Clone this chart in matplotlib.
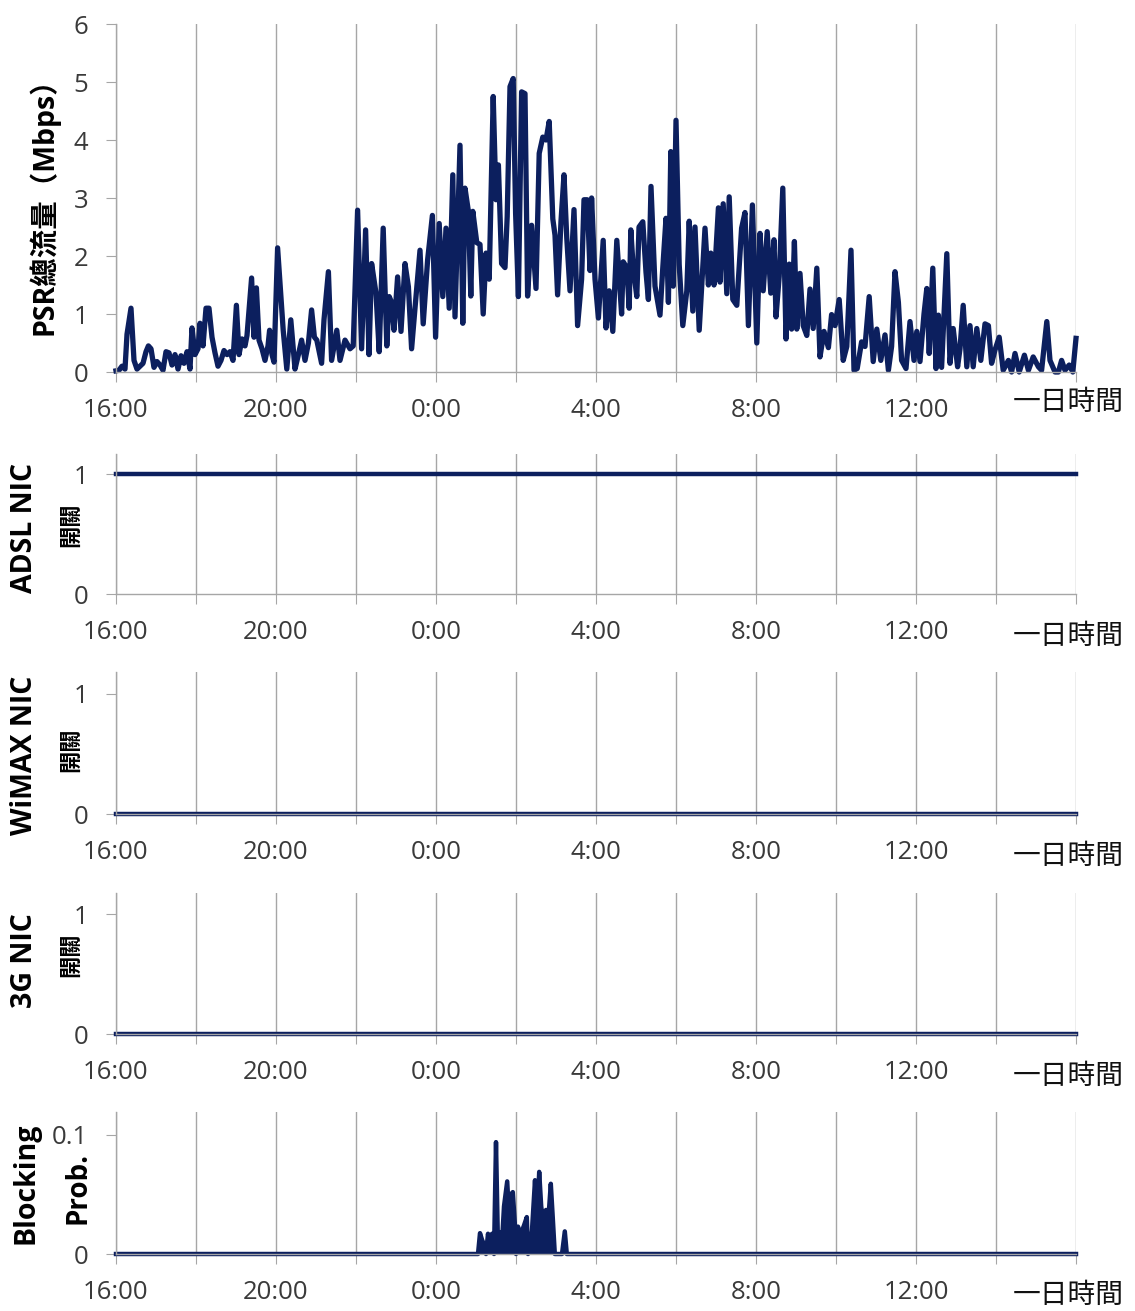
import numpy as np
import matplotlib
matplotlib.use("Agg")
import matplotlib.pyplot as plt

plt.rcParams['font.family'] = ['Open Sans', 'Noto Sans CJK TC', 'DejaVu Sans']

# hours after 16:00, PSR total traffic (Mbps)
psr_hours = [0.0, 0.075, 0.15, 0.225, 0.275, 0.375, 0.45, 0.525, 0.6, 0.675, 0.75, 0.81, 0.875, 0.95,
             1.025, 1.1, 1.175, 1.25, 1.325, 1.4, 1.475, 1.55, 1.625, 1.7, 1.775, 1.85, 1.9, 1.975,
             2.05, 2.1, 2.175, 2.25, 2.325, 2.4, 2.475, 2.55, 2.625, 2.7, 2.775, 2.85, 2.925,
             3.01, 3.075, 3.15, 3.225, 3.275, 3.39, 3.45, 3.51, 3.575, 3.65, 3.725, 3.8, 3.84, 3.9, 3.95,
             4.04, 4.18, 4.27, 4.37, 4.475, 4.56, 4.64, 4.725, 4.81, 4.89, 4.96,
             5.02, 5.14, 5.2, 5.31, 5.39, 5.52, 5.6, 5.725, 5.85, 5.93,
             6.04, 6.14, 6.24, 6.325, 6.39, 6.5, 6.58, 6.68, 6.77, 6.83, 6.89, 6.95,
             7.04, 7.125, 7.225, 7.31, 7.39, 7.475, 7.6, 7.68, 7.79, 7.91, 7.99,
             8.08, 8.17, 8.25, 8.33, 8.42, 8.475, 8.6, 8.67, 8.725, 8.81, 8.87, 8.92,
             9.02, 9.1, 9.18, 9.25, 9.33, 9.43, 9.5, 9.56, 9.64, 9.725, 9.78, 9.85, 9.93, 9.99,
             10.06, 10.14, 10.225, 10.29, 10.39, 10.5, 10.58, 10.67, 10.75, 10.83, 10.92, 10.975,
             11.04, 11.125, 11.2, 11.27, 11.35, 11.45, 11.54, 11.64, 11.7, 11.78, 11.85, 11.89, 11.975,
             12.06, 12.18, 12.25, 12.33, 12.42, 12.52, 12.64, 12.68, 12.77, 12.83, 12.87, 12.93,
             13.02, 13.075, 13.17, 13.25, 13.31, 13.375, 13.475, 13.6, 13.67, 13.75, 13.81, 13.87, 13.93,
             14.0, 14.08, 14.17, 14.27, 14.33, 14.42, 14.475, 14.58, 14.725, 14.81, 14.87, 14.95,
             15.06, 15.1, 15.18, 15.27, 15.33, 15.42, 15.52, 15.64, 15.725, 15.81, 15.91,
             16.02, 16.1, 16.18, 16.28, 16.37, 16.45, 16.5, 16.58, 16.67, 16.75, 16.83, 16.89, 16.96,
             17.02, 17.1, 17.18, 17.27, 17.35, 17.43, 17.52, 17.6, 17.7, 17.81, 17.89, 17.975,
             18.08, 18.18, 18.27, 18.375, 18.45, 18.53, 18.64, 18.725, 18.83, 18.93,
             19.02, 19.12, 19.225, 19.31, 19.39, 19.475, 19.56, 19.64, 19.75, 19.85, 19.95,
             20.02, 20.1, 20.2, 20.27, 20.33, 20.42, 20.5, 20.56, 20.64, 20.77, 20.85, 20.93,
             21.04, 21.1, 21.18, 21.27, 21.35, 21.43, 21.52, 21.62, 21.725, 21.81, 21.89, 21.975,
             22.08, 22.18, 22.31, 22.39, 22.475, 22.58, 22.71, 22.81, 22.93,
             23.06, 23.14, 23.27, 23.35, 23.475, 23.56, 23.64, 23.725, 23.83, 23.92, 24.0]
psr_mbps = [0.02, 0.03, 0.1, 0.05, 0.65, 1.1, 0.2, 0.05, 0.1, 0.15, 0.35, 0.45, 0.4, 0.08,
            0.18, 0.12, 0.03, 0.35, 0.33, 0.12, 0.3, 0.05, 0.28, 0.15, 0.35, 0.05, 0.76, 0.3,
            0.4, 0.84, 0.45, 1.1, 1.1, 0.6, 0.33, 0.1, 0.2, 0.37, 0.3, 0.35, 0.2,
            1.15, 0.3, 0.57, 0.45, 0.63, 1.62, 0.6, 1.45, 0.55, 0.4, 0.2, 0.45, 0.72, 0.3, 0.17,
            2.14, 0.72, 0.05, 0.9, 0.05, 0.3, 0.55, 0.2, 0.5, 1.07, 0.6,
            0.55, 0.15, 0.9, 1.73, 0.2, 0.72, 0.2, 0.55, 0.4, 0.45,
            2.79, 0.4, 2.45, 0.3, 1.87, 1.36, 0.35, 2.48, 0.45, 1.3, 1.2, 0.72,
            1.64, 0.7, 1.87, 1.47, 0.4, 1.1, 2.1, 0.83, 1.93, 2.7, 0.6,
            2.56, 1.3, 2.48, 1.1, 3.4, 0.95, 3.91, 0.84, 3.17, 2.77, 1.31, 2.77,
            2.23, 2.2, 1.0, 2.05, 1.6, 4.75, 2.97, 3.57, 1.87, 1.8, 2.68, 4.92, 5.06, 2.74,
            1.3, 4.83, 4.8, 1.31, 2.53, 1.44, 3.77, 4.05, 4.0, 4.32, 2.64, 2.36,
            1.33, 2.6, 3.4, 2.3, 1.4, 2.8, 0.8, 1.6, 2.97, 2.97, 1.75, 3.0, 1.6,
            0.93, 2.27, 0.76, 1.4, 0.7, 2.27, 1.0, 1.9, 1.8, 1.1, 2.45, 1.8,
            1.3, 2.5, 2.59, 1.72, 1.25, 3.2, 1.48, 0.98, 1.8, 2.65, 1.2, 3.8, 1.48,
            4.34, 1.85, 0.8, 1.4, 2.6, 1.05, 2.5, 0.72, 2.48, 1.5, 2.05, 1.5,
            2.83, 1.55, 2.9, 1.35, 3.02, 1.25, 1.15, 2.48, 2.75, 0.8, 2.88,
            0.5, 2.39, 1.4, 2.42, 1.36, 2.28, 0.95, 1.65, 3.17, 0.57, 1.86, 0.74, 2.25,
            0.74, 1.7, 0.8, 0.63, 1.43, 0.75, 1.79, 0.26, 0.7, 0.42, 0.99, 0.8,
            1.25, 0.2, 0.44, 2.1, 0.03, 0.06, 0.52, 0.44, 1.3, 0.18,
            0.74, 0.2, 0.64, 0.03, 0.44, 1.73, 1.2, 0.2, 0.06, 0.87, 0.2,
            0.7, 0.18, 1.0, 1.44, 0.32, 1.79, 0.06, 0.98, 0.08, 2.04, 0.15, 0.75,
            0.09, 0.4, 1.15, 0.09, 0.8, 0.09, 0.75, 0.2, 0.83, 0.8, 0.15, 0.38,
            0.6, 0.03, 0.2, 0.0, 0.32, 0.0, 0.29, 0.03, 0.26,
            0.09, 0.03, 0.87, 0.2, 0.0, 0.0, 0.2, 0.03, 0.12, 0.0, 0.58]

# NIC on/off state over the whole day
nic_hours = [0, 24]
adsl_state = [1, 1]
wimax_state = [0, 0]
g3_state = [0, 0]

# blocking probability
block_hours = [0, 9.05, 9.1, 9.15, 9.2, 9.25, 9.3, 9.35, 9.4, 9.45, 9.5, 9.55, 9.6, 9.65, 9.7,
               9.78, 9.83, 9.87, 9.92, 9.97, 10.0, 10.05, 10.1, 10.2, 10.27, 10.3, 10.35, 10.4,
               10.475, 10.52, 10.58, 10.63, 10.7, 10.75, 10.8, 10.87, 10.92, 10.97, 11.15, 11.22,
               11.27, 24]
block_prob = [0, 0, 0.0175, 0.012, 0.008, 0.0, 0.017, 0.006, 0.017, 0.0, 0.094, 0.006, 0.018, 0.01, 0.04,
              0.061, 0.03, 0.05, 0.052, 0.026, 0.0, 0.023, 0.015, 0.024, 0.031, 0.0, 0.006, 0.02,
              0.062, 0.025, 0.069, 0.04, 0.023, 0.037, 0.025, 0.059, 0.03, 0.0, 0.0, 0.019,
              0.0, 0]

tick_hours = list(range(0, 25, 2))
tick_names = ['16:00', '', '20:00', '', '0:00', '', '4:00', '', '8:00', '', '12:00', '', '']

navy = '#0c1f5e'
grey = '#a6a6a6'
W, H = 1135, 1311

fig = plt.figure(figsize=(W / 100, H / 100), dpi=100)

def px(x, y):
    return x / W, 1 - y / H

def make_ax(top, bottom, ymax, yticks, ylabels):
    l, b = px(116, bottom)
    ax = fig.add_axes([l, b, (1076 - 116) / W, (bottom - top) / H])
    ax.set_xlim(0, 24)
    ax.set_ylim(0, ymax)
    ax.set_xticks(tick_hours)
    ax.set_xticklabels(tick_names)
    ax.set_yticks(yticks)
    ax.set_yticklabels(ylabels)
    ax.grid(axis='x', color=grey, lw=1)
    ax.set_axisbelow(True)
    for s in ['top', 'right']:
        ax.spines[s].set_visible(False)
    for s in ['left', 'bottom']:
        ax.spines[s].set_color(grey)
        ax.spines[s].set_linewidth(1)
    ax.tick_params(axis='x', length=7, color=grey, pad=12, labelsize=18.5, labelcolor='#3a3a3a')
    ax.tick_params(axis='y', length=7, color=grey, pad=13, labelsize=18.5, labelcolor='#3a3a3a')
    return ax

# panel 1 - PSR traffic
ax1 = make_ax(24, 372, 6, [0, 1, 2, 3, 4, 5, 6], ['0', '1', '2', '3', '4', '5', '6'])
ax1.plot(psr_hours, psr_mbps, color=navy, lw=3.8, solid_joinstyle='round', clip_on=False)
fig.text(*px(44, 199), 'PSR總流量（Mbps）', rotation=90, fontsize=20.5, fontweight='bold',
         ha='center', va='center')

# panels 2-4 - NIC switches
panels = [(454, 594, 1.167, adsl_state, 'ADSL NIC', 528, 525),
          (672, 814, 1.183, wimax_state, 'WiMAX NIC', 755, 750),
          (893, 1034, 1.175, g3_state, '3G NIC', 961, 955)]
for top, bottom, ymax, state, name, yname, ysw in panels:
    ax = make_ax(top, bottom, ymax, [0, 1], ['0', '1'])
    ax.plot(nic_hours, state, color=navy, lw=3.2, clip_on=False)
    fig.text(*px(25, yname), name, rotation=90, fontsize=20.5, fontweight='bold', ha='center', va='center')
    fig.text(*px(72, ysw), '開關', rotation=90, fontsize=16, fontweight='bold', ha='center', va='center')

# panel 5 - blocking probability
ax5 = make_ax(1112, 1254, 0.1193, [0, 0.1], ['0', '0.1'])
ax5.fill_between(block_hours, block_prob, color=navy, lw=0)
ax5.plot(block_hours, block_prob, color=navy, lw=3.2, clip_on=False)
fig.text(*px(26, 1183), 'Blocking', rotation=90, fontsize=20.5, fontweight='bold', ha='center', va='center')
fig.text(*px(78, 1188), 'Prob.', rotation=90, fontsize=20, fontweight='bold', ha='center', va='center')

# x axis captions
for y in [403, 637, 857, 1077, 1296]:
    fig.text(*px(1068, y), '一日時間', fontsize=20, ha='center', va='center', color='#111111')

fig.savefig('out.png', dpi=100)
